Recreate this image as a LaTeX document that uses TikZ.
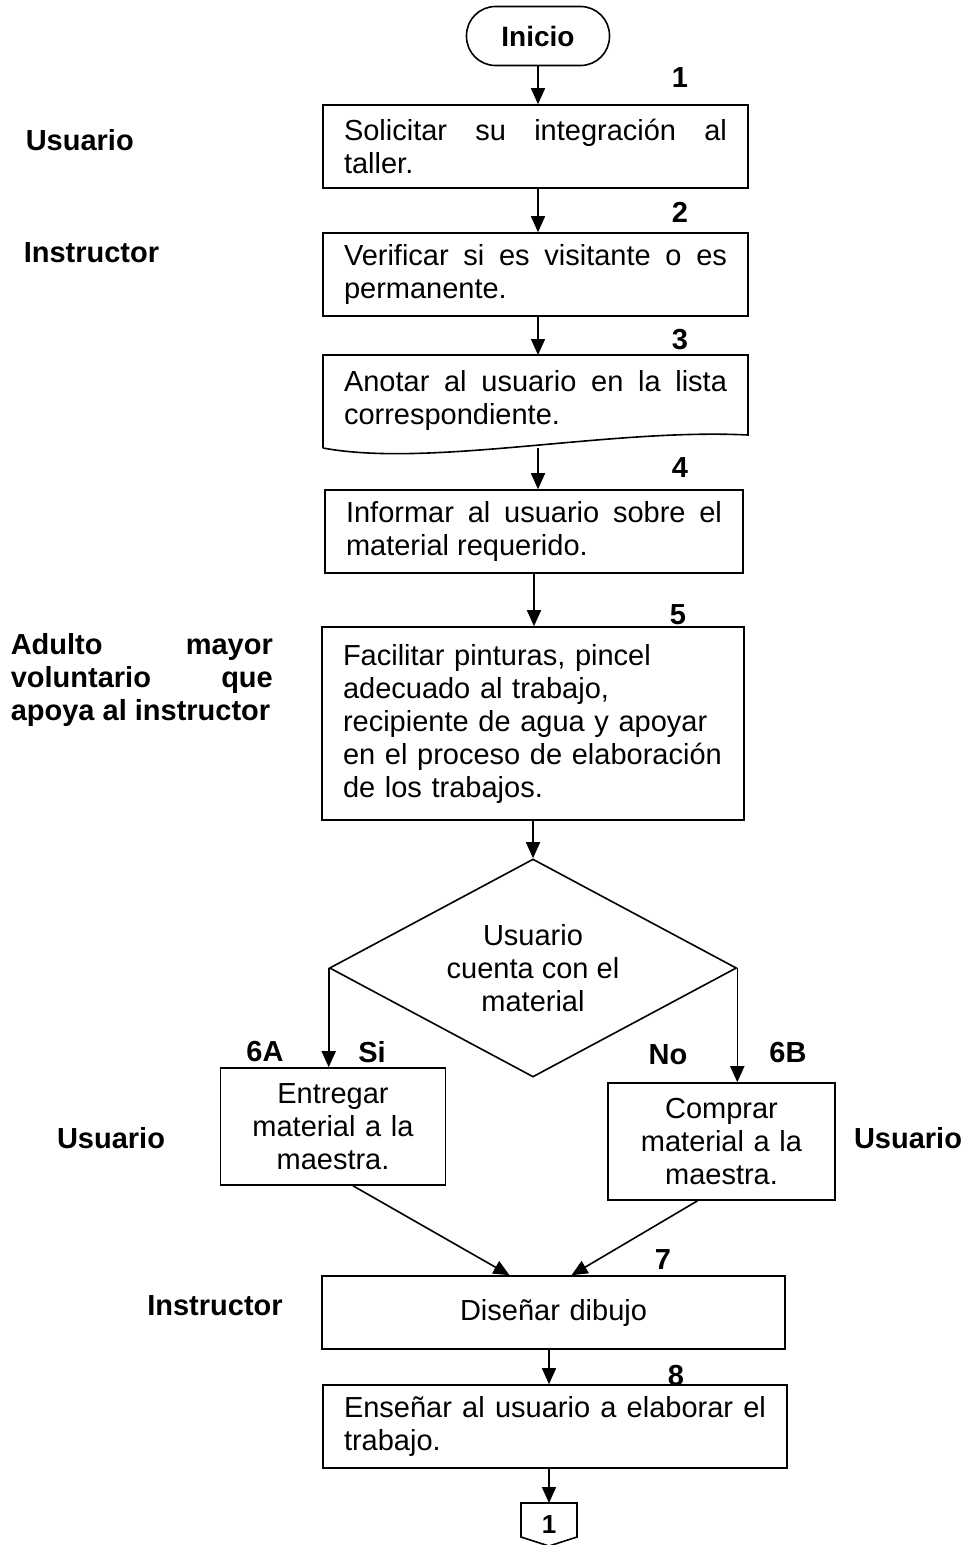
\documentclass[tikz,border=0pt]{standalone}
\usepackage{fontspec}
\setmainfont{Liberation Sans}
\usetikzlibrary{arrows.meta,shapes.geometric,calc}
\begin{document}
\begin{tikzpicture}[x=1pt,y=-1pt,
  line width=1.6pt,
  >={Triangle[length=16pt,width=14pt]},
  every node/.style={font=\fontsize{29}{33}\selectfont},
  procbox/.style={draw,rectangle,inner xsep=21pt,inner ysep=4pt,align=justify},
  lbl/.style={font=\fontsize{29}{33}\selectfont\bfseries,inner sep=0pt},
  num/.style={font=\fontsize{29}{33}\selectfont\bfseries,inner sep=0pt}
]
\useasboundingbox (0,0) rectangle (964,1545);

% start
\node[draw,rounded corners=29pt,minimum width=143pt,minimum height=59pt,inner sep=0pt,
  font=\fontsize{28}{33}\selectfont\bfseries] (ini) at (538,36) {Inicio};

% boxes
\node[procbox,text width=383pt,minimum height=83pt] (b1) at (535.5,146.5)
  {Solicitar su integración al\linebreak taller.};
\node[procbox,text width=383pt,minimum height=83pt] (b2) at (535.5,274.5)
  {Verificar si es visitante o es\linebreak permanente.};
\node[inner xsep=21pt,inner ysep=0pt,text width=383pt,align=justify] (b3) at (535.5,400)
  {Anotar al usuario en la lista\linebreak correspondiente.};
\coordinate (b3tl) at (323,355);
\coordinate (b3tr) at (748,355);
\coordinate (b3br) at (748,435);
\coordinate (b3bl) at (323,448);
\coordinate (b3out) at (538,448);
\draw (b3bl) -- (b3tl) -- (b3tr) -- (b3br) .. controls (610,428) and (430,468) .. (b3bl);

\node[procbox,text width=376pt,minimum height=83pt] (b4) at (534,531.5)
  {Informar al usuario sobre el\linebreak material requerido.};
\node[procbox,text width=380pt,minimum height=193pt,align=left] (b5) at (533,723.5)
  {Facilitar pinturas, pincel\\adecuado al trabajo,\\recipiente de agua y apoyar\\en el proceso de elaboración\\de los trabajos.};

% decision
\node[draw,diamond,minimum width=407pt,minimum height=218pt,inner sep=0pt,aspect=1.87,align=center] (dec) at (533,968)
  {Usuario\\cuenta con el\\material};

\node[procbox,text width=183pt,minimum height=117pt,align=center] (a6) at (333,1126.5)
  {Entregar\\material a la\\maestra.};
\node[procbox,text width=185pt,minimum height=117pt,align=center] (b6) at (721.5,1141.5)
  {Comprar\\material a la\\maestra.};

\node[procbox,text width=421pt,minimum height=73pt,align=center] (b7) at (553.5,1312.5)
  {Diseñar dibujo};
\node[procbox,text width=422pt,minimum height=83pt] (b8) at (555,1426.5)
  {Enseñar al usuario a elaborar el\linebreak trabajo.};

% off-page connector
\node[num,font=\fontsize{26}{30}\selectfont\bfseries] (c1) at (549,1525) {1};
\coordinate (c1t) at (549,1503);
\coordinate (c1tl) at (521,1503);
\coordinate (c1tr) at (577,1503);
\coordinate (c1bl) at (521,1537);
\coordinate (c1br) at (577,1537);
\coordinate (c1b) at (549,1546);
\draw (c1tl) -- (c1tr) -- (c1br) -- (c1b) -- (c1bl) -- cycle;

% connectors
\draw[->] (ini.south) -- (ini.south |- b1.north);
\draw[->] (b1.south -| ini) -- (ini |- b2.north);
\draw[->] (b2.south -| ini) -- (ini |- b3tl);
\draw[->] (b3out) -- (b3out |- b4.north);
\draw[->] (b4.south) -- (b4.south |- b5.north);
\draw[->] (b5.south) -- (dec.north);
\draw[->] (dec.west) -- (dec.west |- a6.north);
\draw[->] (dec.east) -- (dec.east |- b6.north);
\draw[->] ([xshift=20pt]a6.south) -- ([xshift=-44pt]b7.north);
\draw[->] ([xshift=-24pt]b6.south) -- ([xshift=18pt]b7.north);
\draw[->] (b7.south -| c1) -- (b8.north -| c1);
\draw[->] (b8.south -| c1) -- (c1t);

% numbers
\node[num] (n1) at (680,78) {1};
\node[num] (n2) at (680,212) {2};
\node[num] (n3) at (680,340) {3};
\node[num] (n4) at (680,468) {4};
\node[num] (n5) at (678,615) {5};
\node[num] (n6a) at (265,1052) {6A};
\node[num] (nsi) at (372,1052) {Si};
\node[num] (nno) at (668,1055) {No};
\node[num] (n6b) at (788,1053) {6B};
\node[num] (n7) at (663,1260) {7};
\node[num] (n8) at (676,1375) {8};

% side labels
\node[lbl,anchor=west] (l1) at (25,140) {Usuario};
\node[lbl,anchor=west] (l2) at (23,253) {Instructor};
\node[lbl,anchor=west,text width=262pt,align=justify] (l3) at (10,680)
  {Adulto mayor\linebreak voluntario que\linebreak apoya al instructor};
\node[lbl] (l4) at (111,1138) {Usuario};
\node[lbl] (l5) at (908,1138) {Usuario};
\node[lbl] (l6) at (215,1306) {Instructor};
\end{tikzpicture}
\end{document}
